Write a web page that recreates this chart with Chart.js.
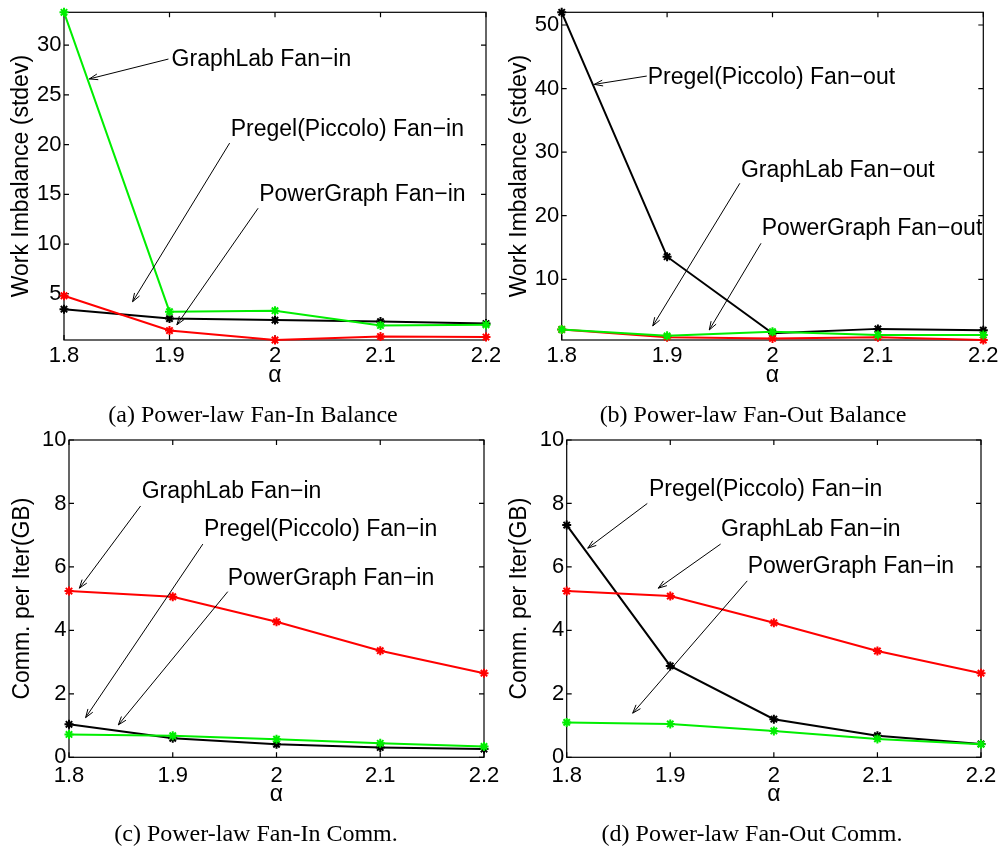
<!DOCTYPE html>
<html>
<head>
<meta charset="utf-8">
<script src="https://cdn.jsdelivr.net/npm/chart.js@4.4.0/dist/chart.umd.min.js"></script>
<style>
  html, body { margin: 0; padding: 0; background: #fff; }
  body { width: 1001px; height: 846px; position: relative; overflow: hidden; }
  canvas { position: absolute; }
  .cap {
    position: absolute; width: 400px; height: 24px; line-height: 24px;
    text-align: center; white-space: nowrap; color: #000;
    font-family: "Liberation Serif", "Times New Roman", serif; font-size: 24px;
  }
</style>
</head>
<body>
<canvas id="ca" width="500" height="400" style="left:0;top:0"></canvas>
<canvas id="cb" width="501" height="400" style="left:500px;top:0"></canvas>
<canvas id="cc" width="500" height="426" style="left:0;top:420px"></canvas>
<canvas id="cd" width="501" height="426" style="left:500px;top:420px"></canvas>
<div class="cap" style="left:53px;top:402px">(a) Power-law Fan-In Balance</div>
<div class="cap" style="left:553px;top:402px">(b) Power-law Fan-Out Balance</div>
<div class="cap" style="left:56px;top:821px">(c) Power-law Fan-In Comm.</div>
<div class="cap" style="left:552px;top:821px">(d) Power-law Fan-Out Comm.</div>
<script>
// alpha values on the x axis
const alphas = [1.8, 1.9, 2.0, 2.1, 2.2];
const xTicks = [1.8, 1.9, 2, 2.1, 2.2];

// (a) Power-law Fan-In Balance, work imbalance (stdev)
const balInGreen = [33.3, 3.2, 3.3, 1.81, 1.88];
const balInBlack = [3.45, 2.5, 2.35, 2.2, 2.0];
const balInRed   = [4.8, 1.3, 0.35, 0.7, 0.65];
const balInTicks = [5, 10, 15, 20, 25, 30];

// (b) Power-law Fan-Out Balance
const balOutGreen = [2.1, 1.1, 1.75, 1.25, 1.25];
const balOutBlack = [52.0, 13.55, 1.5, 2.2, 2.0];
const balOutRed   = [2.1, 0.9, 0.7, 0.9, 0.45];
const balOutTicks = [10, 20, 30, 40, 50];

// (c) Power-law Fan-In Comm., GB per iteration
const commInGreen = [0.72, 0.68, 0.57, 0.44, 0.34];
const commInBlack = [1.04, 0.6, 0.41, 0.31, 0.26];
const commInRed   = [5.24, 5.06, 4.27, 3.36, 2.65];

// (d) Power-law Fan-Out Comm.
const commOutGreen = [1.1, 1.05, 0.83, 0.58, 0.41];
const commOutBlack = [7.32, 2.88, 1.2, 0.68, 0.42];
const commOutRed   = [5.24, 5.08, 4.24, 3.35, 2.65];
const commTicks = [0, 2, 4, 6, 8, 10];

// arrow labels, in data units: text anchor, arrow start, arrow tip
const notesA = [
  { text: 'GraphLab Fan\u2212in', at: [1.902, 28.5], from: [1.899, 28.6], to: [1.824, 26.6] },
  { text: 'Pregel(Piccolo) Fan\u2212in', at: [1.958, 21.5], from: [1.957, 20.15], to: [1.865, 4.2] },
  { text: 'PowerGraph Fan\u2212in', at: [1.985, 14.95], from: [1.984, 13.6], to: [1.907, 1.88] }
];
const notesB = [
  { text: 'Pregel(Piccolo) Fan\u2212out', at: [1.8816, 41.76], from: [1.8807, 41.97], to: [1.8309, 40.66] },
  { text: 'GraphLab Fan\u2212out', at: [1.970, 27.08], from: [1.969, 25.1], to: [1.8864, 2.66] },
  { text: 'PowerGraph Fan\u2212out', at: [1.9898, 18.02], from: [1.9891, 15.66], to: [1.940, 2.03] }
];
const notesC = [
  { text: 'GraphLab Fan\u2212in', at: [1.870, 8.37], from: [1.869, 7.92], to: [1.810, 5.33] },
  { text: 'Pregel(Piccolo) Fan\u2212in', at: [1.930, 7.16], from: [1.929, 6.72], to: [1.816, 1.25] },
  { text: 'PowerGraph Fan\u2212in', at: [1.953, 5.64], from: [1.953, 5.22], to: [1.8475, 1.02] }
];
const notesD = [
  { text: 'Pregel(Piccolo) Fan\u2212in', at: [1.8794, 8.45], from: [1.8778, 8.0], to: [1.8203, 6.59] },
  { text: 'GraphLab Fan\u2212in', at: [1.9489, 7.16], from: [1.9486, 6.72], to: [1.8884, 5.33] },
  { text: 'PowerGraph Fan\u2212in', at: [1.9747, 6.01], from: [1.9743, 5.56], to: [1.8637, 1.39] }
];

const SANS = "'Liberation Sans', Arial, Helvetica, sans-serif";
const GREEN = '#00ee00', RED = '#ff0000', BLACK = '#000000';
const notesById = {};

// box with inward ticks (matlab style) + arrow annotations
const frame = {
  id: 'frame',
  beforeDatasetsDraw(chart) {
    const { ctx, chartArea: a, scales: { x, y } } = chart;
    ctx.save();
    ctx.strokeStyle = '#000';
    ctx.lineWidth = 1.2;
    ctx.strokeRect(a.left, a.top, a.right - a.left, a.bottom - a.top);
    ctx.beginPath();
    x.ticks.forEach(t => {
      const px = x.getPixelForValue(t.value);
      ctx.moveTo(px, a.bottom); ctx.lineTo(px, a.bottom - 5);
      ctx.moveTo(px, a.top); ctx.lineTo(px, a.top + 5);
    });
    y.ticks.forEach(t => {
      const py = y.getPixelForValue(t.value);
      ctx.moveTo(a.left, py); ctx.lineTo(a.left + 5, py);
      ctx.moveTo(a.right, py); ctx.lineTo(a.right - 5, py);
    });
    ctx.stroke();
    ctx.restore();
  },
  afterDatasetsDraw(chart) {
    const notes = notesById[chart.canvas.id] || [];
    const { ctx, scales: { x, y } } = chart;
    ctx.save();
    ctx.strokeStyle = '#000';
    ctx.fillStyle = '#000';
    ctx.lineWidth = 1;
    ctx.font = '23px ' + SANS;
    ctx.textBaseline = 'middle';
    ctx.textAlign = 'left';
    notes.forEach(n => {
      ctx.fillText(n.text, x.getPixelForValue(n.at[0]), y.getPixelForValue(n.at[1]));
      const x0 = x.getPixelForValue(n.from[0]), y0 = y.getPixelForValue(n.from[1]);
      const x1 = x.getPixelForValue(n.to[0]), y1 = y.getPixelForValue(n.to[1]);
      const ang = Math.atan2(y1 - y0, x1 - x0), L = 9, w = 0.33;
      ctx.beginPath();
      ctx.moveTo(x0, y0); ctx.lineTo(x1, y1);
      ctx.moveTo(x1 - L * Math.cos(ang - w), y1 - L * Math.sin(ang - w));
      ctx.lineTo(x1, y1);
      ctx.lineTo(x1 - L * Math.cos(ang + w), y1 - L * Math.sin(ang + w));
      ctx.stroke();
    });
    ctx.restore();
  }
};

function series(label, vals, color) {
  return {
    label: label,
    data: alphas.map((a, i) => ({ x: a, y: vals[i] })),
    borderColor: color,
    backgroundColor: color,
    pointBorderColor: color,
    pointBackgroundColor: color,
    borderWidth: 2,
    pointStyle: 'star',
    pointRadius: 4.5,
    pointBorderWidth: 2,
    clip: false
  };
}

// p: panel layout in canvas pixels
function makeChart(p) {
  notesById[p.id] = p.notes;
  const plotW = p.plotL, xH = 60;
  new Chart(document.getElementById(p.id), {
    type: 'line',
    data: {
      datasets: [
        series('GraphLab', p.green, GREEN),
        series('PowerGraph', p.red, RED),
        series('Pregel(Piccolo)', p.black, BLACK)
      ]
    },
    options: {
      responsive: false,
      animation: false,
      devicePixelRatio: 1,
      layout: {
        padding: { left: 0, top: p.plotT, right: p.w - p.plotR, bottom: p.h - p.plotB - xH }
      },
      plugins: { legend: { display: false }, tooltip: { enabled: false } },
      scales: {
        x: {
          type: 'linear',
          min: 1.8, max: 2.2,
          grid: { display: false, drawTicks: false },
          border: { display: false },
          afterBuildTicks: s => { s.ticks = xTicks.map(v => ({ value: v })); },
          afterFit: s => { s.height = xH; s.paddingLeft = 0; s.paddingRight = 0; },
          ticks: {
            color: '#000', padding: p.xTickPad, maxRotation: 0,
            font: { family: SANS, size: 22 },
            callback: v => String(v)
          },
          title: {
            display: true, text: '\u03b1', color: '#000',
            font: { family: SANS, size: 23 },
            padding: { top: 0, bottom: p.alphaPad }
          }
        },
        y: {
          min: p.yMin, max: p.yMax,
          grid: { display: false, drawTicks: false },
          border: { display: false },
          afterBuildTicks: s => { s.ticks = p.yTicks.map(v => ({ value: v })); },
          afterFit: s => { s.width = plotW; s.paddingTop = 0; s.paddingBottom = 0; },
          ticks: {
            color: '#000', padding: 2.5,
            font: { family: SANS, size: 22 },
            callback: v => String(v)
          },
          title: {
            display: true, text: p.yTitle, color: '#000',
            font: { family: SANS, size: 23 },
            padding: { top: p.yTitleX - 13.8, bottom: 0 }
          }
        }
      }
    },
    plugins: [frame]
  });
}

const allA = balInGreen.concat(balInBlack, balInRed);
const allB = balOutGreen.concat(balOutBlack, balOutRed);

makeChart({
  id: 'ca', w: 500, h: 400, plotL: 64, plotT: 12.3, plotR: 486, plotB: 340,
  yMin: Math.min(...allA), yMax: Math.max(...allA), yTicks: balInTicks,
  green: balInGreen, black: balInBlack, red: balInRed, notes: notesA,
  yTitle: 'Work Imbalance (stdev)', yTitleX: 22, xTickPad: 2.5, alphaPad: 10.9
});
makeChart({
  id: 'cb', w: 501, h: 400, plotL: 61.7, plotT: 12.3, plotR: 483.3, plotB: 340,
  yMin: Math.min(...allB), yMax: Math.max(...allB), yTicks: balOutTicks,
  green: balOutGreen, black: balOutBlack, red: balOutRed, notes: notesB,
  yTitle: 'Work Imbalance (stdev)', yTitleX: 20, xTickPad: 2.5, alphaPad: 10.9
});
makeChart({
  id: 'cc', w: 500, h: 426, plotL: 69, plotT: 20, plotR: 484, plotB: 337.3,
  yMin: 0, yMax: 10, yTicks: commTicks,
  green: commInGreen, black: commInBlack, red: commInRed, notes: notesC,
  yTitle: 'Comm. per Iter(GB)', yTitleX: 23, xTickPad: 5, alphaPad: 8.8
});
makeChart({
  id: 'cd', w: 501, h: 426, plotL: 66.7, plotT: 20, plotR: 481, plotB: 337.3,
  yMin: 0, yMax: 10, yTicks: commTicks,
  green: commOutGreen, black: commOutBlack, red: commOutRed, notes: notesD,
  yTitle: 'Comm. per Iter(GB)', yTitleX: 20, xTickPad: 5, alphaPad: 8.8
});
</script>
</body>
</html>
